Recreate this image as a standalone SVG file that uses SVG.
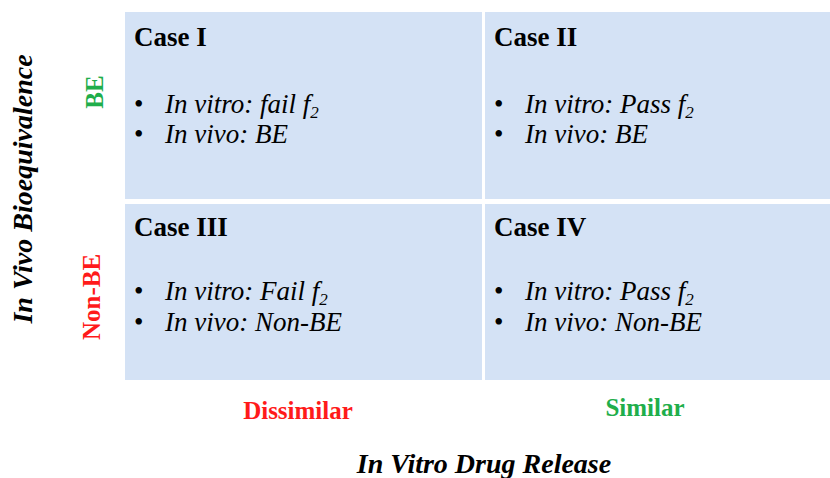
<svg xmlns="http://www.w3.org/2000/svg" width="830" height="478" viewBox="0 0 830 478">
<style>
.cell{fill:#d4e2f5}
.case{font-family:"Liberation Serif",serif;font-weight:bold;font-size:27px;fill:#000}
.it{font-family:"Liberation Serif",serif;font-style:italic;font-size:27px;fill:#000}
.bul{font-family:"Liberation Serif",serif;font-size:27px;fill:#000}
.sub{font-size:17px}
.lab{font-family:"Liberation Serif",serif;font-weight:bold;font-size:25px}
.axis{font-family:"Liberation Serif",serif;font-weight:bold;font-style:italic;font-size:28px;fill:#000}
.g{fill:#1fae4b}
.r{fill:#ff1a1a}
</style>
<rect width="830" height="478" fill="#fff"/>
<g id="case1">
<rect class="cell" x="125" y="12" width="357" height="187"/>
<text class="case" x="134" y="46">Case I</text>
<text class="bul" x="134" y="113">•</text>
<text class="it" x="165" y="113">In vitro: fail f<tspan class="sub" dy="5">2</tspan></text>
<text class="bul" x="134" y="143">•</text>
<text class="it" x="165" y="143">In vivo: BE</text>
</g>
<g id="case2">
<rect class="cell" x="485" y="12" width="345" height="187"/>
<text class="case" x="494" y="46">Case II</text>
<text class="bul" x="494" y="113">•</text>
<text class="it" x="525" y="113">In vitro: Pass f<tspan class="sub" dy="5">2</tspan></text>
<text class="bul" x="494" y="143">•</text>
<text class="it" x="525" y="143">In vivo: BE</text>
</g>
<g id="case3">
<rect class="cell" x="125" y="204" width="357" height="176"/>
<text class="case" x="134" y="236">Case III</text>
<text class="bul" x="134" y="300">•</text>
<text class="it" x="165" y="300">In vitro: Fail f<tspan class="sub" dy="5">2</tspan></text>
<text class="bul" x="134" y="331">•</text>
<text class="it" x="165" y="331">In vivo: Non-BE</text>
</g>
<g id="case4">
<rect class="cell" x="485" y="204" width="345" height="176"/>
<text class="case" x="494" y="236">Case IV</text>
<text class="bul" x="494" y="300">•</text>
<text class="it" x="525" y="300">In vitro: Pass f<tspan class="sub" dy="5">2</tspan></text>
<text class="bul" x="494" y="331">•</text>
<text class="it" x="525" y="331">In vivo: Non-BE</text>
</g>
<g id="labels">
<text class="lab g" text-anchor="middle" transform="translate(103,92) rotate(-90)">BE</text>
<text class="lab r" text-anchor="middle" transform="translate(100,297) rotate(-90)">Non-BE</text>
<text class="lab r" x="298" y="419" text-anchor="middle">Dissimilar</text>
<text class="lab g" x="645" y="416" text-anchor="middle">Similar</text>
<text class="axis" text-anchor="middle" transform="translate(32,189) rotate(-90)">In Vivo Bioequivalence</text>
<text class="axis" x="484" y="473" text-anchor="middle">In Vitro Drug Release</text>
</g>
<g id="connectors"/>
</svg>
